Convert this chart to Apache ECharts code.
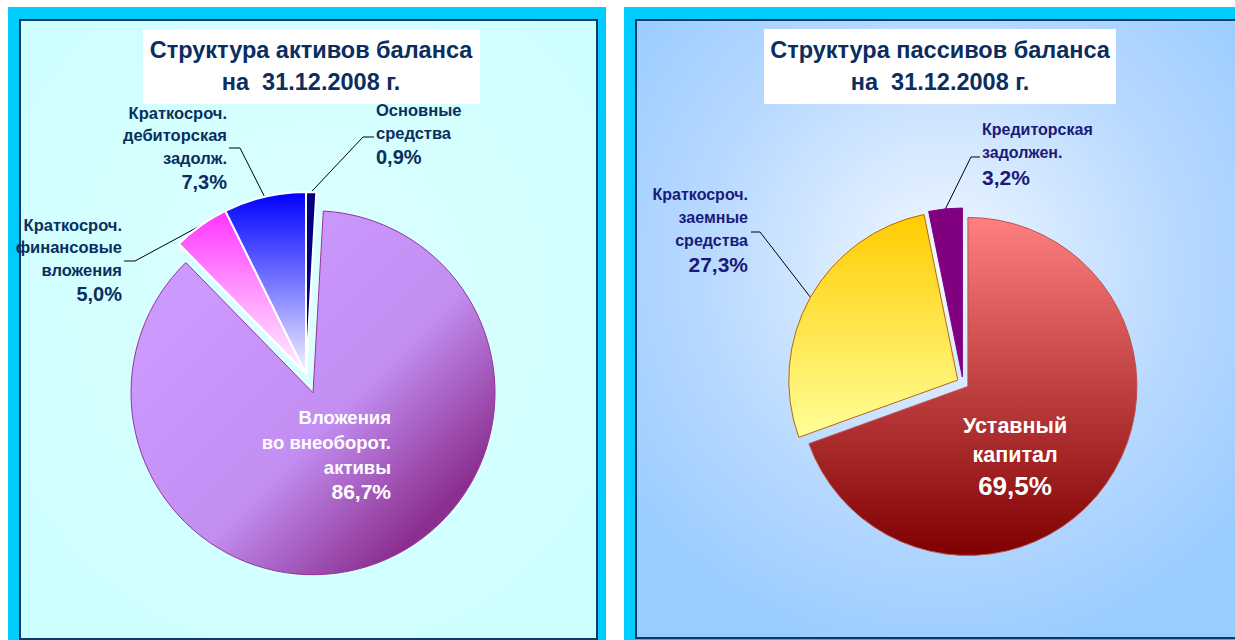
<!DOCTYPE html>
<html>
<head>
<meta charset="utf-8">
<script src="https://cdn.jsdelivr.net/npm/echarts@6/dist/echarts.min.js"></script>
<style>
  html, body { margin: 0; padding: 0; background: #fff; }
  #chart { width: 1235px; height: 640px; }
</style>
</head>
<body>
<div id="chart"></div>
<script>
// data
const assetNames = ["Основные\nсредства", "Вложения\nво внеоборот.\nактивы", "Краткосроч.\nфинансовые\nвложения", "Краткосроч.\nдебиторская\nзадолж."];
const assetShares = [0.9, 86.7, 5.0, 7.3];
const liabilityNames = ["Уставный\nкапитал", "Краткосроч.\nзаемные\nсредства", "Кредиторская\nзадолжен."];
const liabilityShares = [69.5, 27.3, 3.2];
const titles = ["Структура активов баланса\nна  31.12.2008 г.", "Структура пассивов баланса\nна  31.12.2008 г."];

const FONT = '"Liberation Sans", Arial, sans-serif';

function grad(x, y, x2, y2, stops) {
  return {
    type: "linear", x: x, y: y, x2: x2, y2: y2,
    colorStops: stops.map((c) => ({ offset: c[0], color: c[1] }))
  };
}

const assetStyles = [
  { color: "#000080", borderColor: "#fff", borderWidth: 2 },
  { color: grad(0.2, 0.2, 1, 1, [[0, "#CC99FF"], [0.45, "#C38EF2"], [0.8, "#8A2D8E"], [1, "#9A4AA8"]]), borderColor: "#993399", borderWidth: 1 },
  { color: grad(0, 0, 0, 1, [[0, "#FF33FF"], [0.5, "#FF99FF"], [1, "#FFF4FF"]]), borderColor: "#fff", borderWidth: 2 },
  { color: grad(0, 0, 0, 1, [[0, "#0000FF"], [0.5, "#7777FF"], [1, "#F6F6FF"]]), borderColor: "#fff", borderWidth: 2 }
];
const liabilityStyles = [
  { color: grad(0, 0, 0, 1, [[0, "#FF8080"], [1, "#7F0000"]]), borderColor: "#C0504D", borderWidth: 1 },
  { color: grad(0, 0, 0, 1, [[0, "#FFCC00"], [1, "#FFFF99"]]), borderColor: "#B8650A", borderWidth: 1 },
  { color: "#800080", borderColor: "#800080", borderWidth: 1 }
];

function pct(v) {
  return v.toFixed(1).replace(".", ",") + "%";
}

function richLabel(color, nameSize, nameLH, pSize, pLH, align) {
  return {
    show: true,
    formatter: (p) => "{n|" + p.name + "}\n{p|" + pct(p.value) + "}",
    rich: {
      n: { fontFamily: FONT, fontWeight: "bold", fontSize: nameSize, lineHeight: nameLH, color: color, align: align },
      p: { fontFamily: FONT, fontWeight: "bold", fontSize: pSize, lineHeight: pLH, color: color, align: align }
    }
  };
}

// pie geometry
const assetPie = { center: [306, 374], radius: 182, offset: 20, exploded: [1] };
const liabilityPie = { center: [963, 383], radius: 169, offset: 6, exploded: [0, 1, 2] };

// label placement (text anchors + leader elbows)
const assetLabelPos = [
  { x: 376, y: 99, align: "left", elbow: [363, 137], end: [374, 137] },
  { x: 391, y: 404.5, align: "right" },
  { x: 122, y: 213.5, align: "right", elbow: [135, 261], end: [124, 261] },
  { x: 227, y: 101.5, align: "right", elbow: [240, 148], end: [229, 148] }
];
const liabilityLabelPos = [
  { x: 1015, y: 411, align: "center" },
  { x: 748, y: 182.5, align: "right", elbow: [760, 232], end: [751, 232] },
  { x: 982, y: 117.5, align: "left", elbow: [971, 157], end: [980, 157] }
];

function placeLabels(pos, pie) {
  return function (params) {
    const p = pos[params.dataIndex];
    const out = { x: p.x, y: p.y, align: p.align, verticalAlign: "top" };
    if (p.elbow && params.labelLinePoints) {
      let s = params.labelLinePoints[0];
      if (pie.exploded.indexOf(params.dataIndex) >= 0) {
        const dx = s[0] - pie.center[0], dy = s[1] - pie.center[1];
        const len = Math.sqrt(dx * dx + dy * dy) || 1;
        s = [s[0] + dx / len * pie.offset, s[1] + dy / len * pie.offset];
      }
      out.labelLinePoints = [s, p.elbow, p.end];
    }
    return out;
  };
}

const leader = { show: true, length: 10, length2: 10, lineStyle: { color: "#000", width: 1 } };
const hidden = { color: "rgba(0,0,0,0)", borderWidth: 0 };

function pieSeries(pie, names, values, styles) {
  return {
    type: "pie",
    center: pie.center,
    radius: pie.radius,
    startAngle: 90,
    clockwise: true,
    selectedMode: "multiple",
    selectedOffset: pie.offset,
    avoidLabelOverlap: false,
    emphasis: { disabled: true },
    label: { show: false },
    labelLine: { show: false },
    data: names.map((name, i) => ({
      name: name, value: values[i],
      selected: pie.exploded.indexOf(i) >= 0,
      itemStyle: styles[i]
    }))
  };
}

function labelSeries(pie, names, values, labels, pos) {
  return {
    type: "pie",
    center: pie.center,
    radius: pie.radius,
    startAngle: 90,
    clockwise: true,
    silent: true,
    avoidLabelOverlap: false,
    emphasis: { disabled: true },
    itemStyle: hidden,
    data: names.map((name, i) => ({
      name: name, value: values[i],
      label: labels[i],
      labelLine: pos[i].elbow ? leader : { show: false }
    })),
    labelLayout: placeLabels(pos, pie)
  };
}

const assetLabels = assetNames.map((n, i) => {
  const l = i === 1
    ? richLabel("#fff", 18.5, 25, 21, 24, "right")
    : richLabel("#0B2E5E", 16.5, 22.5, 20, 26, assetLabelPos[i].align);
  l.position = i === 1 ? "inside" : "outside";
  return l;
});
const liabilityLabels = liabilityNames.map((n, i) => {
  const l = i === 0
    ? richLabel("#fff", 21.5, 29.5, 26, 31, "center")
    : richLabel("#1A1A7A", 16, 23, 21, i === 2 ? 28 : 26, liabilityLabelPos[i].align);
  l.position = i === 0 ? "inside" : "outside";
  return l;
});

const chart = echarts.init(document.getElementById("chart"), null, { renderer: "svg" });

const option = {
  animation: false,
  backgroundColor: "#fff",
  graphic: [
    { type: "rect", z: -10, silent: true, shape: { x: 8, y: 7, width: 598, height: 640 }, style: { fill: "#00CCFF" } },
    {
      type: "rect", z: -9, silent: true, shape: { x: 20, y: 20, width: 577, height: 619 },
      style: {
        fill: { type: "radial", x: 0.5, y: 0.45, r: 0.7, colorStops: [{ offset: 0, color: "#DDFFFF" }, { offset: 1, color: "#CCFFFF" }] },
        stroke: "#0B3A66", lineWidth: 2
      }
    },
    { type: "rect", z: -10, silent: true, shape: { x: 624, y: 7, width: 620, height: 640 }, style: { fill: "#00CCFF" } },
    {
      type: "rect", z: -9, silent: true, shape: { x: 636, y: 20, width: 610, height: 618 },
      style: {
        fill: { type: "radial", x: 0.5, y: 0.4, r: 0.65, colorStops: [{ offset: 0, color: "#F2F8FF" }, { offset: 0.6, color: "#B8D9FF" }, { offset: 1, color: "#99CCFF" }] },
        stroke: "#0B3A66", lineWidth: 2
      }
    },
    { type: "rect", z: -8, silent: true, shape: { x: 143, y: 29, width: 337, height: 75 }, style: { fill: "#fff" } },
    { type: "rect", z: -8, silent: true, shape: { x: 764, y: 29, width: 352, height: 75 }, style: { fill: "#fff" } },
    {
      type: "text", z: -7, silent: true, x: 311, y: 34,
      style: { text: titles[0], fontFamily: FONT, fontWeight: "bold", fontSize: 23.5, lineHeight: 32, fill: "#0B2E5E", align: "center", verticalAlign: "top" }
    },
    {
      type: "text", z: -7, silent: true, x: 940, y: 34,
      style: { text: titles[1], fontFamily: FONT, fontWeight: "bold", fontSize: 23.5, lineHeight: 32, fill: "#0B2E5E", align: "center", verticalAlign: "top" }
    }
  ],
  series: [
    pieSeries(assetPie, assetNames, assetShares, assetStyles),
    pieSeries(liabilityPie, liabilityNames, liabilityShares, liabilityStyles),
    labelSeries(assetPie, assetNames, assetShares, assetLabels, assetLabelPos),
    labelSeries(liabilityPie, liabilityNames, liabilityShares, liabilityLabels, liabilityLabelPos)
  ]
};

chart.setOption(option);
</script>
</body>
</html>
